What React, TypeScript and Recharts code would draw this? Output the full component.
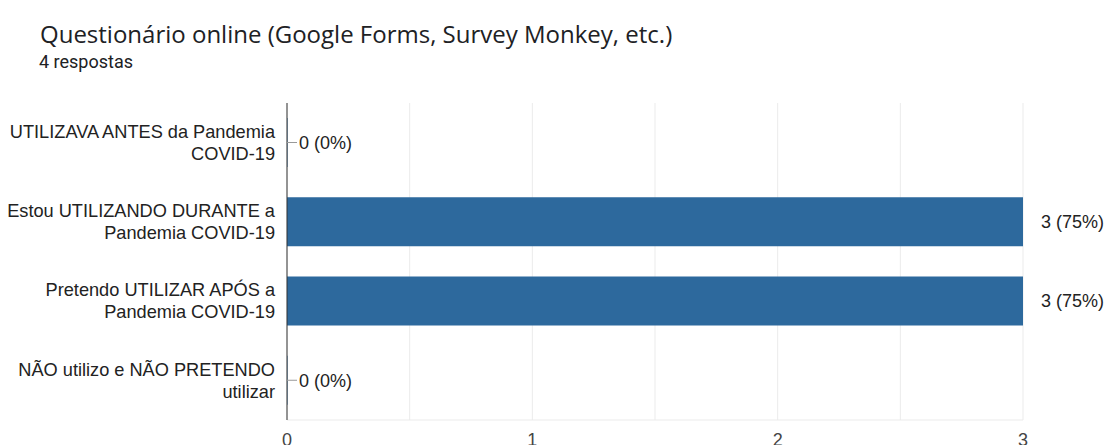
import React from 'react';
import { BarChart, Bar, XAxis, YAxis, CartesianGrid, LabelList } from 'recharts';

const title = 'Questionário online (Google Forms, Survey Monkey, etc.)';
const subtitle = '4 respostas';
const totalResponses = 4;

const categories = [
  'UTILIZAVA ANTES da Pandemia\nCOVID-19',
  'Estou UTILIZANDO DURANTE a\nPandemia COVID-19',
  'Pretendo UTILIZAR APÓS a\nPandemia COVID-19',
  'NÃO utilizo e NÃO PRETENDO\nutilizar',
];
const counts = [0, 3, 3, 0];
const gridTicks = [0, 0.5, 1, 1.5, 2, 2.5, 3];

const data = categories.map((name, i) => ({ name, value: counts[i] }));

const chartFont = '"Liberation Sans", Arial, sans-serif';

function CategoryTick({ x, y, payload }: any) {
  const lines = String(payload.value).split('\n');
  const lh = 22;
  const start = -((lines.length - 1) * lh) / 2;
  return (
    <text x={x - 4} y={y} textAnchor="end" fill="#222" fontSize={18.2} fontFamily={chartFont}>
      {lines.map((l, i) => (
        <tspan key={i} x={x - 4} y={y + start + i * lh} dy="0.35em">
          {l}
        </tspan>
      ))}
    </text>
  );
}

function ValueLabel({ x, y, width, height, value }: any) {
  const v = Number(value);
  const end = x + (v === 0 ? 0 : width);
  const cy = y + height / 2;
  const pct = Math.round((v / totalResponses) * 100);
  const text = `${v} (${pct}%)`;
  if (v === 0) {
    return (
      <g>
        <line x1={end} x2={end + 10} y1={cy} y2={cy} stroke="#999" />
        <text x={end + 12} y={cy} dy="0.35em" fill="#222" fontSize={18} fontFamily={chartFont}>
          {text}
        </text>
      </g>
    );
  }
  return (
    <text x={end + 18} y={cy} dy="0.35em" fill="#222" fontSize={18} fontFamily={chartFont}>
      {text}
    </text>
  );
}

export default function App() {
  return (
    <div style={{ position: 'absolute', left: 0, top: 0, width: 1110, height: 445, background: '#fff', overflow: 'hidden' }}>
      <div
        style={{
          position: 'absolute',
          left: 40,
          top: 19,
          fontFamily: '"Open Sans", sans-serif',
          fontSize: 24,
          lineHeight: '30px',
          color: '#202124',
          whiteSpace: 'nowrap',
        }}
      >
        {title}
      </div>
      <div
        style={{
          position: 'absolute',
          left: 39,
          top: 50,
          fontFamily: 'Roboto, sans-serif',
          fontSize: 18,
          lineHeight: '24px',
          color: '#202124',
        }}
      >
        {subtitle}
      </div>
      <div style={{ position: 'absolute', left: 0, top: 0 }}>
        <BarChart
          width={1110}
          height={445}
          data={data}
          layout="vertical"
          margin={{ top: 103, right: 87, bottom: 0, left: 0 }}
        >
          <CartesianGrid horizontal={false} stroke="#ebebeb" />
          <XAxis
            type="number"
            domain={[0, 3]}
            ticks={gridTicks}
            interval={0}
            height={25}
            tickLine={false}
            tickSize={6}
            tickMargin={7}
            axisLine={{ stroke: '#ebebeb' }}
            tickFormatter={(v: number) => (Number.isInteger(v) ? String(v) : '')}
            tick={{ fill: '#444', fontSize: 18, fontFamily: chartFont }}
          />
          <XAxis
            xAxisId="top"
            orientation="top"
            type="number"
            domain={[0, 3]}
            height={0}
            tick={false}
            tickLine={false}
            axisLine={{ stroke: '#ebebeb' }}
          />
          <YAxis
            type="category"
            dataKey="name"
            width={287}
            axisLine={{ stroke: '#333' }}
            tickLine={false}
            interval={0}
            tick={<CategoryTick />}
          />
          <Bar dataKey="value" fill="#2d699d" barSize={49} minPointSize={0.5} isAnimationActive={false}>
            <LabelList dataKey="value" content={<ValueLabel />} />
          </Bar>
        </BarChart>
      </div>
    </div>
  );
}
